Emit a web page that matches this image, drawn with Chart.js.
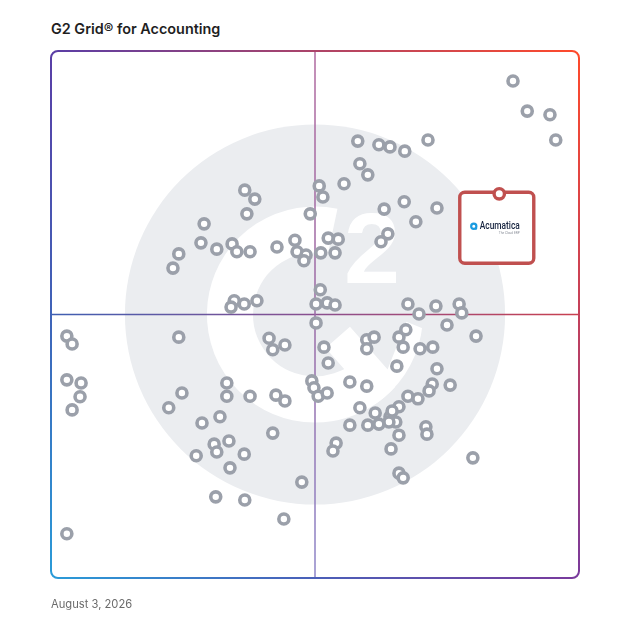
<!DOCTYPE html>
<html>
<head>
<meta charset="utf-8">
<script src="https://cdn.jsdelivr.net/npm/chart.js@4"></script>
<style>
  html,body{margin:0;padding:0;background:#fff;}
  #wrap{position:relative;width:628px;height:628px;overflow:hidden;}
  #title{position:absolute;left:51px;top:20px;font:600 14.4px Inter, "Noto Sans", sans-serif;color:#1f1f1f;letter-spacing:0;}
  #date{position:absolute;left:51px;top:597px;font:400 11.2px Inter, "Noto Sans", sans-serif;color:#6b6b6b;}
  canvas{position:absolute;left:0;top:0;}
</style>
</head>
<body>
<div id="wrap">
  <div id="title">G2 Grid® for Accounting</div>
  <canvas id="c" width="628" height="628"></canvas>
  <div id="date">August 3, 2026</div>
</div>
<script>
// Satisfaction (x) and Market Presence (y) scores, 0–100
const satisfaction = [
  36.7,38.6,37.1,29.0,28.4,24.2,23.1,31.4,34.3,35.2,37.7,42.8,46.2,46.6,48.3,47.9,49.1,34.7,34.1,36.6,39.0,
  50.8,51.5,55.5,58.5,60.0,58.1,62.1,64.2,67.0,71.4,87.5,90.2,94.5,95.6,66.9,63.1,73.1,69.1,63.8,62.5,52.5,54.4,51.1,53.8,51.0,50.2,52.3,53.8,67.6,69.7,72.9,77.3,77.8,
  50.2,51.7,52.5,49.4,49.8,50.6,52.3,59.8,61.2,59.8,65.9,67.2,66.7,69.9,72.3,75.0,80.5,65.5,73.1,56.6,59.8,72.2,71.6,75.6,67.6,69.5,65.9,58.5,61.4,64.2,64.6,65.3,64.0,62.1,60.0,56.6,71.0,71.2,65.9,54.0,53.4,64.4,79.9,65.9,66.7,
  3.0,4.0,24.2,41.3,42.0,44.3,3.0,5.7,5.5,4.0,24.8,22.3,33.3,33.3,37.7,42.6,44.3,28.6,32.0,30.9,31.4,33.7,27.5,36.6,33.9,42.0,47.5,31.2,36.7,44.1,3.0
];
const marketPresence = [
  73.6,71.9,69.1,67.2,63.6,61.5,58.8,62.4,63.4,61.9,61.9,62.8,64.1,61.9,61.3,60.2,69.1,52.6,51.4,52.0,52.6,
  74.4,72.3,74.8,78.6,76.5,82.9,82.2,81.8,81.0,83.1,94.3,88.6,87.9,83.1,71.4,70.0,70.2,67.6,65.3,63.8,64.5,64.3,61.7,61.7,54.7,52.0,52.2,51.8,52.0,50.1,51.6,52.0,50.3,
  48.4,43.8,40.8,37.4,36.1,34.5,35.1,45.2,45.7,43.5,45.7,47.1,43.8,43.5,43.8,48.0,45.9,40.2,39.7,37.2,36.4,36.8,35.5,36.6,34.5,34.0,32.5,32.3,31.3,30.6,31.7,29.6,29.6,29.2,29.0,29.0,28.7,27.3,27.1,25.6,24.1,24.5,22.8,19.9,19.0,
  45.9,44.4,45.7,45.5,43.3,44.2,37.6,37.0,34.4,31.9,35.1,32.3,37.0,34.5,34.5,34.7,33.6,29.4,30.6,25.4,23.9,26.0,23.2,23.5,20.9,27.5,18.2,15.4,14.8,11.2,8.4
];
// Highlighted product
const highlightName = ["Acumatica"];
const highlightSatisfaction = [84.9];
const highlightMarketPresence = [72.9];
const highlightTagline = ["The Cloud ERP"];
// Axis ranges and quadrant split
const axisMin = 0, axisMax = 100, quadrantSplit = 50;

const products = satisfaction.map((s, i) => ({x: s, y: marketPresence[i]}));
const highlight = highlightSatisfaction.map((s, i) => ({x: s, y: highlightMarketPresence[i]}));

const deg = Math.PI / 180;

const watermarkPlugin = {
  id: 'g2watermark',
  beforeDatasetsDraw(chart) {
    const {ctx, chartArea: a, scales: {x, y}} = chart;
    const cx = x.getPixelForValue(quadrantSplit), cy = y.getPixelForValue(quadrantSplit);
    const R = a.width * 0.36;
    ctx.save();
    // disk
    ctx.fillStyle = '#ebedf0';
    ctx.beginPath(); ctx.arc(cx, cy, R, 0, Math.PI * 2); ctx.fill();
    // G ring
    ctx.strokeStyle = '#ffffff';
    ctx.lineCap = 'butt';
    ctx.lineWidth = R * 0.243;
    ctx.beginPath(); ctx.arc(cx, cy, R * 0.447, -78 * deg, 42 * deg, true); ctx.stroke();
    // chevron
    ctx.save();
    ctx.beginPath(); ctx.arc(cx, cy, R * 0.568, 0, Math.PI * 2); ctx.clip();
    ctx.lineWidth = R * 0.17;
    ctx.lineJoin = 'miter';
    ctx.beginPath();
    ctx.moveTo(cx + R * 0.12, cy + R * 0.12);
    ctx.lineTo(cx + R * 0.41, cy + R * 0.45);
    ctx.lineTo(cx + R * 0.56, cy + R * 0.07);
    ctx.stroke();
    ctx.restore();
    // superscript 2
    ctx.fillStyle = '#ffffff';
    ctx.font = 'bold ' + (R * 0.53) + 'px "Liberation Sans", Arial, sans-serif';
    ctx.textAlign = 'center';
    ctx.textBaseline = 'alphabetic';
    ctx.fillText('2', cx + R * 0.30, cy - R * 0.165);
    // quadrant lines
    ctx.lineWidth = 1.5;
    let g = ctx.createLinearGradient(a.left, 0, a.right, 0);
    g.addColorStop(0, '#3f5fb2'); g.addColorStop(0.5, '#8a4f8f'); g.addColorStop(1, '#c9404f');
    ctx.strokeStyle = g;
    ctx.beginPath(); ctx.moveTo(a.left, cy); ctx.lineTo(a.right, cy); ctx.stroke();
    g = ctx.createLinearGradient(0, a.top, 0, a.bottom);
    g.addColorStop(0, '#b0699f'); g.addColorStop(0.5, '#9a6aa6'); g.addColorStop(1, '#8d85c8');
    ctx.strokeStyle = g;
    ctx.beginPath(); ctx.moveTo(cx, a.top); ctx.lineTo(cx, a.bottom); ctx.stroke();
    ctx.restore();
  },
  beforeDatasetDraw(chart, args) {
    if (args.index !== 1) return;
    const {ctx} = chart;
    const meta = chart.getDatasetMeta(1);
    const p = meta.data[0];
    const px = p.x, py = p.y;
    const l = px - 39.5, r = px + 34.5, t = py - 1.5, b = py + 69.5, rad = 5;
    ctx.save();
    ctx.fillStyle = '#ffffff';
    ctx.strokeStyle = '#c0504f';
    ctx.lineWidth = 3.4;
    ctx.beginPath();
    ctx.roundRect(l, t, r - l, b - t, rad);
    ctx.fill(); ctx.stroke();
    // logo icon
    const ix = l + 14, iy = t + 34;
    ctx.strokeStyle = '#1a9be0';
    ctx.lineWidth = 2.2;
    ctx.beginPath(); ctx.arc(ix, iy, 2.6, 0, Math.PI * 2); ctx.stroke();
    ctx.fillStyle = '#1a9be0';
    ctx.beginPath(); ctx.arc(ix + 2.2, iy + 2.2, 1.2, 0, Math.PI * 2); ctx.fill();
    // name
    ctx.fillStyle = '#16233f';
    ctx.font = '500 10.5px Roboto, "Liberation Sans", sans-serif';
    ctx.textAlign = 'left';
    ctx.textBaseline = 'middle';
    ctx.fillText(highlightName[0], l + 20, iy + 0.5, 40);
    ctx.fillStyle = '#8a8f99';
    ctx.font = '3.5px Roboto, sans-serif';
    ctx.fillText(highlightTagline[0], l + 39, iy + 6.5, 21);
    ctx.restore();
  },
  afterDraw(chart) {
    const {ctx, chartArea: a} = chart;
    const L = a.left, T = a.top, Rr = a.right, B = a.bottom, rad = 7;
    const TL = '#5a3ea6', TR = '#ff4a2b', BL = '#2a9bd8', BR = '#7a3a9c';
    ctx.save();
    ctx.lineWidth = 2;
    let g;
    // top
    g = ctx.createLinearGradient(L, 0, Rr, 0); g.addColorStop(0, TL); g.addColorStop(1, TR);
    ctx.strokeStyle = g;
    ctx.beginPath();
    ctx.arc(L + rad, T + rad, rad, Math.PI, 1.5 * Math.PI);
    ctx.lineTo(Rr - rad, T);
    ctx.arc(Rr - rad, T + rad, rad, 1.5 * Math.PI, 2 * Math.PI);
    ctx.stroke();
    // right
    g = ctx.createLinearGradient(0, T, 0, B); g.addColorStop(0, TR); g.addColorStop(0.5, '#c4405a'); g.addColorStop(1, BR);
    ctx.strokeStyle = g;
    ctx.beginPath(); ctx.moveTo(Rr, T + rad); ctx.lineTo(Rr, B - rad); ctx.stroke();
    // bottom
    g = ctx.createLinearGradient(L, 0, Rr, 0); g.addColorStop(0, BL); g.addColorStop(0.5, '#4a5fb8'); g.addColorStop(1, BR);
    ctx.strokeStyle = g;
    ctx.beginPath();
    ctx.arc(L + rad, B - rad, rad, Math.PI, 0.5 * Math.PI, true);
    ctx.lineTo(Rr - rad, B);
    ctx.arc(Rr - rad, B - rad, rad, 0.5 * Math.PI, 0, true);
    ctx.stroke();
    // left
    g = ctx.createLinearGradient(0, T, 0, B); g.addColorStop(0, TL); g.addColorStop(0.5, '#3f63b8'); g.addColorStop(1, BL);
    ctx.strokeStyle = g;
    ctx.beginPath(); ctx.moveTo(L, T + rad); ctx.lineTo(L, B - rad); ctx.stroke();
    ctx.restore();
  }
};

new Chart(document.getElementById('c'), {
  type: 'scatter',
  data: {
    datasets: [
      {
        label: 'Products',
        data: products,
        pointRadius: 5,
        pointHoverRadius: 5,
        borderWidth: 3.6,
        borderColor: '#9ba0aa',
        backgroundColor: '#ffffff',
        clip: false
      },
      {
        label: highlightName[0],
        data: highlight,
        pointRadius: 5.2,
        pointHoverRadius: 5.2,
        borderWidth: 3.4,
        borderColor: '#c0504f',
        backgroundColor: '#ffffff',
        clip: false
      }
    ]
  },
  options: {
    responsive: false,
    animation: false,
    events: [],
    layout: {padding: {left: 51, top: 51, right: 49, bottom: 50}},
    plugins: {legend: {display: false}, tooltip: {enabled: false}},
    scales: {
      x: {type: 'linear', min: axisMin, max: axisMax, display: false},
      y: {type: 'linear', min: axisMin, max: axisMax, display: false}
    }
  },
  plugins: [watermarkPlugin]
});
</script>
</body>
</html>
